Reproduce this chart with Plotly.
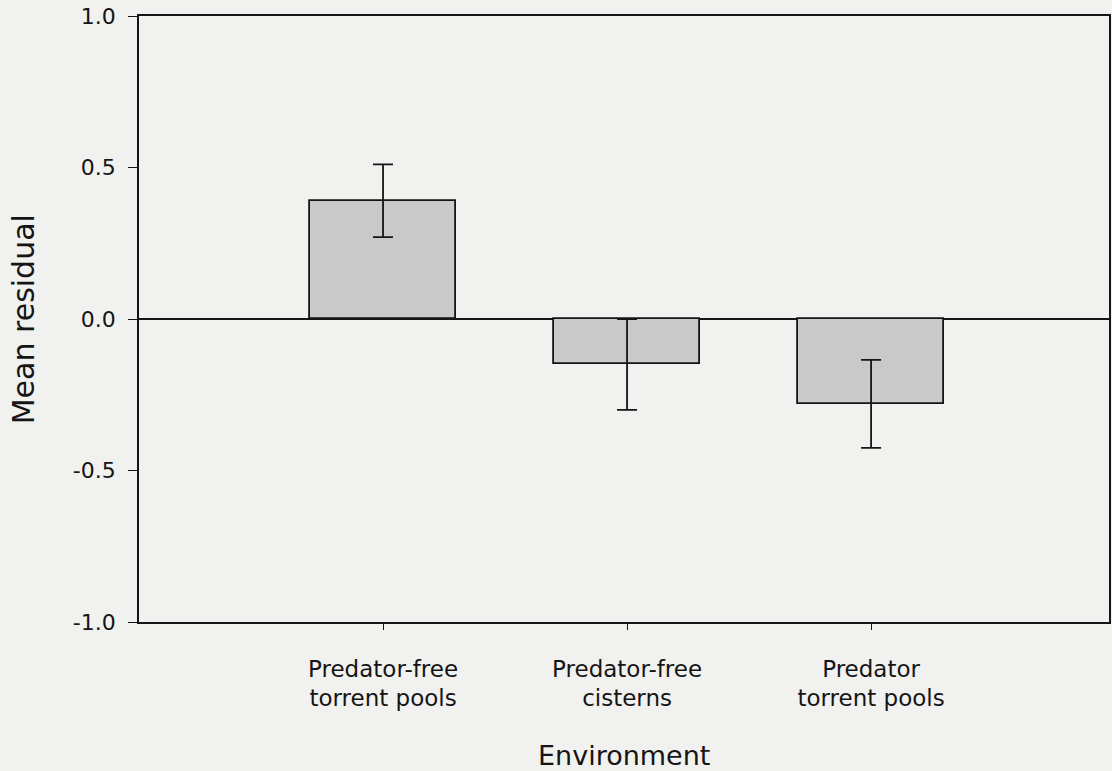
import plotly.graph_objects as go

# Mean residual per environment, with error bars
environments = ["Predator-free<br>torrent pools", "Predator-free<br>cisterns", "Predator<br>torrent pools"]
mean_residual = [0.39, -0.15, -0.28]
error = [0.12, 0.15, 0.145]

y_tick_vals = [-1.0, -0.5, 0.0, 0.5, 1.0]
y_tick_text = ["-1.0", "-0.5", "0.0", "0.5", "1.0"]

font_family = "DejaVu Sans, Liberation Sans, Arial, sans-serif"
ink = "#151515"

fig = go.Figure()
fig.add_trace(go.Bar(
    x=list(range(len(environments))),
    y=mean_residual,
    width=0.6,
    marker=dict(color="#c9c9c9", line=dict(color=ink, width=1.8)),
    error_y=dict(type="data", array=error, visible=True,
                 color=ink, thickness=1.8, width=10),
    showlegend=False,
))

fig.update_layout(
    width=1112, height=771,
    margin=dict(l=139, r=1, t=16, b=149),
    paper_bgcolor="#f1f1ef",
    plot_bgcolor="#f1f1ef",
    font=dict(family=font_family, color=ink),
    bargap=0,
)

fig.update_xaxes(
    range=[-1.0, 2.975],
    tickvals=list(range(len(environments))),
    ticktext=environments,
    ticks="outside", ticklen=6, tickwidth=1.4, tickcolor=ink,
    tickfont=dict(size=23, color=ink),
    ticklabelstandoff=19,
    showline=True, linecolor=ink, linewidth=1.8, mirror=True,
    showgrid=False, zeroline=False,
)

fig.update_yaxes(
    range=[-1.0, 1.0],
    tickvals=y_tick_vals,
    ticktext=y_tick_text,
    ticks="outside", ticklen=9, tickwidth=1.4, tickcolor=ink,
    tickfont=dict(size=22, color=ink),
    ticklabelstandoff=8,
    showline=True, linecolor=ink, linewidth=1.8, mirror=True,
    showgrid=False,
    zeroline=True, zerolinecolor=ink, zerolinewidth=1.6,
)

# Axis titles
fig.add_annotation(
    text="Mean residual", textangle=-90,
    xref="paper", yref="paper", x=-0.1193, y=0.5,
    xanchor="center", yanchor="middle", showarrow=False,
    font=dict(size=30, color=ink),
)
fig.add_annotation(
    text="Environment",
    xref="paper", yref="paper", x=0.5, y=-0.2203,
    xanchor="center", yanchor="middle", showarrow=False,
    font=dict(size=27, color=ink),
)

fig.write_html("out.html")
